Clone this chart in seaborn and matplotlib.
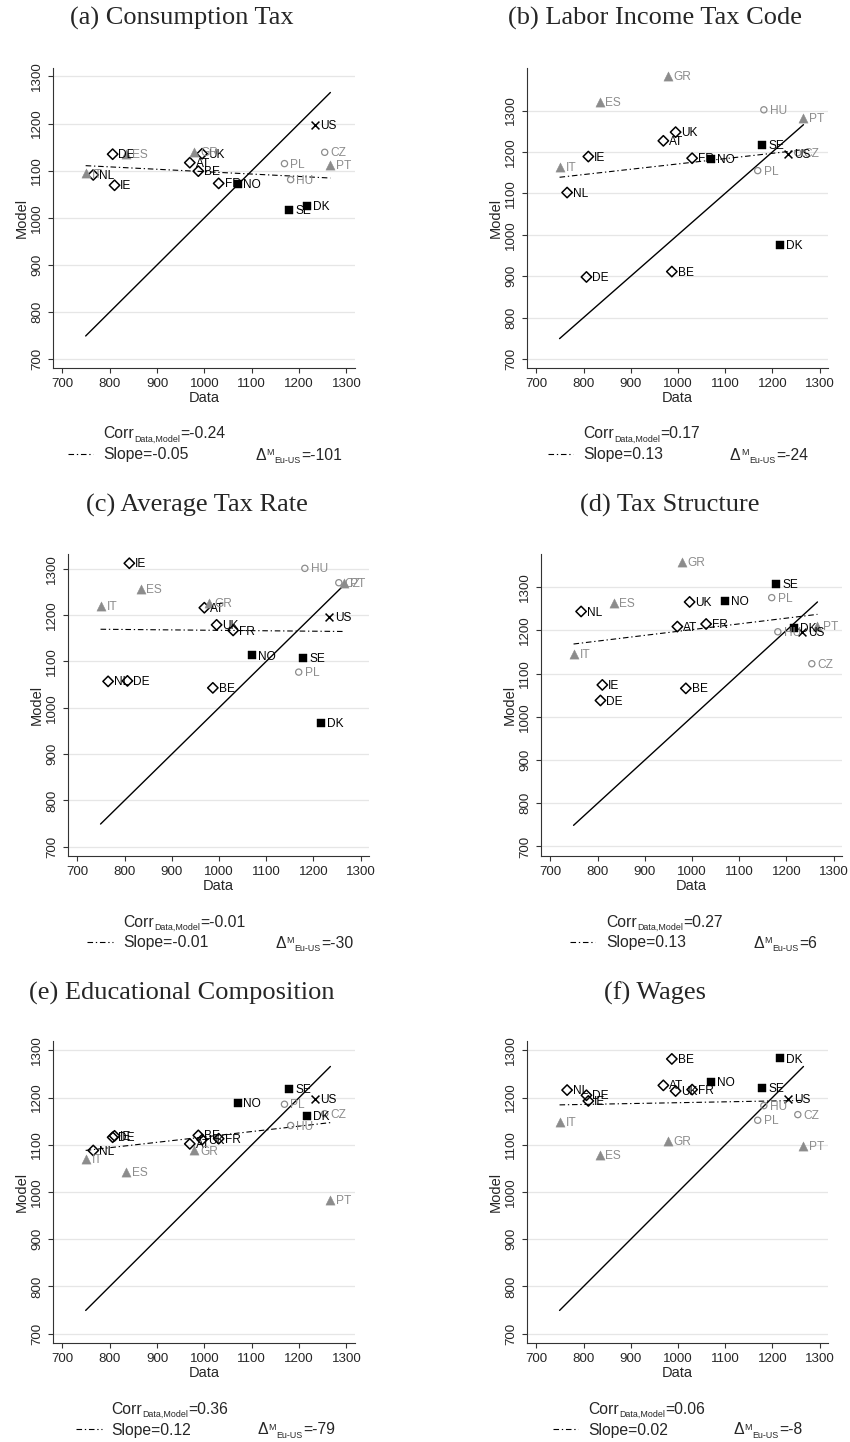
import numpy as np
import pandas as pd
import matplotlib
matplotlib.use("Agg")
import matplotlib.pyplot as plt
from matplotlib.lines import Line2D
import seaborn as sns

sns.set_style("white")
plt.rcParams["font.family"] = ["Liberation Sans", "DejaVu Sans"]

# ---- data ----
countries = ["AT", "BE", "DE", "FR", "IE", "NL", "UK",
             "ES", "GR", "IT", "PT",
             "CZ", "HU", "PL",
             "DK", "NO", "SE",
             "US"]
groups = ["cont"] * 7 + ["south"] * 4 + ["east"] * 3 + ["nordic"] * 3 + ["us"]
data_x = [969, 987, 806, 1030, 810, 765, 995,
          834, 978, 749, 1266,
          1254, 1182, 1169,
          1217, 1070, 1179,
          1233]

consumption_tax = [1117, 1099, 1135, 1073, 1069, 1091, 1136,
                   1135, 1140, 1094, 1113,
                   1139, 1081, 1115,
                   1026, 1072, 1016,
                   1198]
labor_tax_code = [1227, 911, 898, 1185, 1189, 1102, 1248,
                  1320, 1383, 1164, 1283,
                  1198, 1302, 1155,
                  976, 1184, 1218,
                  1196]
average_tax_rate = [1216, 1043, 1058, 1167, 1312, 1057, 1179,
                    1256, 1227, 1219, 1270,
                    1270, 1301, 1077,
                    968, 1113, 1107,
                    1197]
tax_structure = [1209, 1066, 1038, 1215, 1074, 1244, 1266,
                 1263, 1358, 1146, 1211,
                 1123, 1197, 1276,
                 1206, 1268, 1308,
                 1197]
education = [1102, 1120, 1116, 1113, 1119, 1088, 1111,
             1043, 1088, 1070, 983,
             1166, 1141, 1186,
             1161, 1188, 1219,
             1197]
wages = [1226, 1282, 1205, 1217, 1193, 1216, 1214,
         1078, 1109, 1149, 1097,
         1164, 1183, 1152,
         1283, 1234, 1220,
         1197]

model_series = [consumption_tax, labor_tax_code, average_tax_rate,
                tax_structure, education, wages]
titles = ["(a) Consumption Tax", "(b) Labor Income Tax Code",
          "(c) Average Tax Rate", "(d) Tax Structure",
          "(e) Educational Composition", "(f) Wages"]
corr_vals = ["-0.24", "0.17", "-0.01", "0.27", "0.36", "0.06"]
slope_vals = ["-0.05", "0.13", "-0.01", "0.13", "0.12", "0.02"]
delta_vals = ["-101", "-24", "-30", "6", "-79", "-8"]
ticks = [700, 800, 900, 1000, 1100, 1200, 1300]

# ---- layout (pixels) ----
W, H = 850, 1442
# left, top, right, bottom of each axes
rects = [(53, 68, 355, 368), (527, 68, 828, 368),
         (68, 554, 369, 856), (541, 554, 842, 856),
         (53, 1041, 355, 1343), (527, 1041, 828, 1343)]
ylims = [(681, 1318), (678, 1403), (680, 1332), (678, 1377), (680, 1320), (680, 1320)]
title_pos = [(182, 18), (655, 18), (197, 505), (670, 505), (182, 993), (655, 993)]
# text x, corr y, slope y, sample x0, sample x1, delta x
stat_pos = [(103, 433, 454, 68, 93, 255), (583, 433, 454, 548, 573, 730),
            (123, 921, 942, 87, 113, 275), (606, 921, 942, 570, 595, 753),
            (111, 1408, 1429, 76, 102, 257), (588, 1408, 1429, 553, 578, 733)]

gray = "#8c8c8c"
styles = {
    "cont": dict(marker="D", s=28, facecolors="none", edgecolor="black", linewidth=1.1),
    "south": dict(marker="^", s=44, color=gray, edgecolor=gray, linewidth=0.3),
    "east": dict(marker="o", s=20, facecolors="none", edgecolor=gray, linewidth=0.9),
    "nordic": dict(marker="s", s=38, color="black", edgecolor="black", linewidth=0.3),
    "us": dict(marker="x", s=32, color="black", edgecolor="black", linewidth=1.1),
}
text_color = {"cont": "black", "south": gray, "east": gray, "nordic": "black", "us": "black"}
fit_style = (0, (5, 2.5, 1.2, 2.5))
big, small = 11.3, 6.4

fig = plt.figure(figsize=(W / 100, H / 100), dpi=100)
renderer = fig.canvas.get_renderer()


def fx(px):
    return px / W


def fy(py):
    return 1 - py / H


def put_pieces(x, base_y, pieces):
    # pieces: (text, fontsize, baseline shift in px, positive = down)
    for txt, size, dy in pieces:
        t = fig.text(fx(x), fy(base_y + dy), txt, ha="left", va="baseline",
                     fontsize=size)
        x += t.get_window_extent(renderer).width + (0.6 if size < 8 else 0.3)


for i, model in enumerate(model_series):
    l, t, r, b = rects[i]
    ax = fig.add_axes([fx(l), fy(b), (r - l) / W, (b - t) / H])
    df = pd.DataFrame({"country": countries, "group": groups,
                       "data": data_x, "model": model})
    europe = df[df["group"] != "us"]

    # 45 degree line over the data range
    lo, hi = df["data"].min(), df["data"].max()
    sns.lineplot(x=[lo, hi], y=[lo, hi], color="black", linewidth=1.0, ax=ax)

    # fitted line (European countries)
    sns.regplot(data=europe, x="data", y="model", scatter=False, ci=None, ax=ax,
                line_kws=dict(color="black", linewidth=0.8, linestyle=fit_style))

    for g, sty in styles.items():
        sub = df[df["group"] == g]
        sns.scatterplot(data=sub, x="data", y="model", ax=ax, legend=False,
                        zorder=3, **sty)

    for _, row in df.iterrows():
        ax.annotate(row["country"], (row["data"], row["model"]),
                    xytext=(4.2, -0.8), textcoords="offset points",
                    fontsize=8.6, va="center", ha="left",
                    color=text_color[row["group"]], zorder=4)

    ax.set_xlim(680, 1318)
    ax.set_ylim(*ylims[i])
    ax.set_xticks(ticks)
    ax.set_yticks(ticks)
    ax.yaxis.grid(True, color="#e6e6e6", linewidth=0.9)
    ax.xaxis.grid(False)
    ax.set_axisbelow(True)
    for side in ["top", "right"]:
        ax.spines[side].set_visible(False)
    for side in ["left", "bottom"]:
        ax.spines[side].set_color("#333333")
        ax.spines[side].set_linewidth(0.8)
    ax.tick_params(axis="both", direction="out", length=3.6, width=0.8,
                   color="#333333", labelsize=9.6, pad=3.5, left=True, bottom=True)
    for lab in ax.get_yticklabels():
        lab.set_rotation(90)
        lab.set_va("center")
    ax.set_xlabel("Data", fontsize=10.5, labelpad=1.0)
    ax.set_ylabel("Model", fontsize=10.5, labelpad=2.0)

    tx, ty = title_pos[i]
    fig.text(fx(tx), fy(ty), titles[i], ha="center", va="center",
             fontsize=19, family=["Liberation Serif", "DejaVu Serif"])

    sx, cy, sy, lx0, lx1, dx = stat_pos[i]
    put_pieces(sx, cy + 5.5, [("Corr", big, 0), ("Data,Model", small, 3.5),
                              ("=" + corr_vals[i], big, 0)])
    put_pieces(sx, sy + 5.5, [("Slope=" + slope_vals[i], big, 0)])
    fig.add_artist(Line2D([fx(lx0), fx(lx1)], [fy(sy), fy(sy)], transform=fig.transFigure,
                          color="black", linewidth=0.8, linestyle=fit_style))
    put_pieces(dx, sy + 5.5, [("\u0394", big, 0), ("M", small, -4.5),
                              ("Eu-US", small, 3.5), ("=" + delta_vals[i], big, 0)])

fig.savefig("out.png", dpi=100)
